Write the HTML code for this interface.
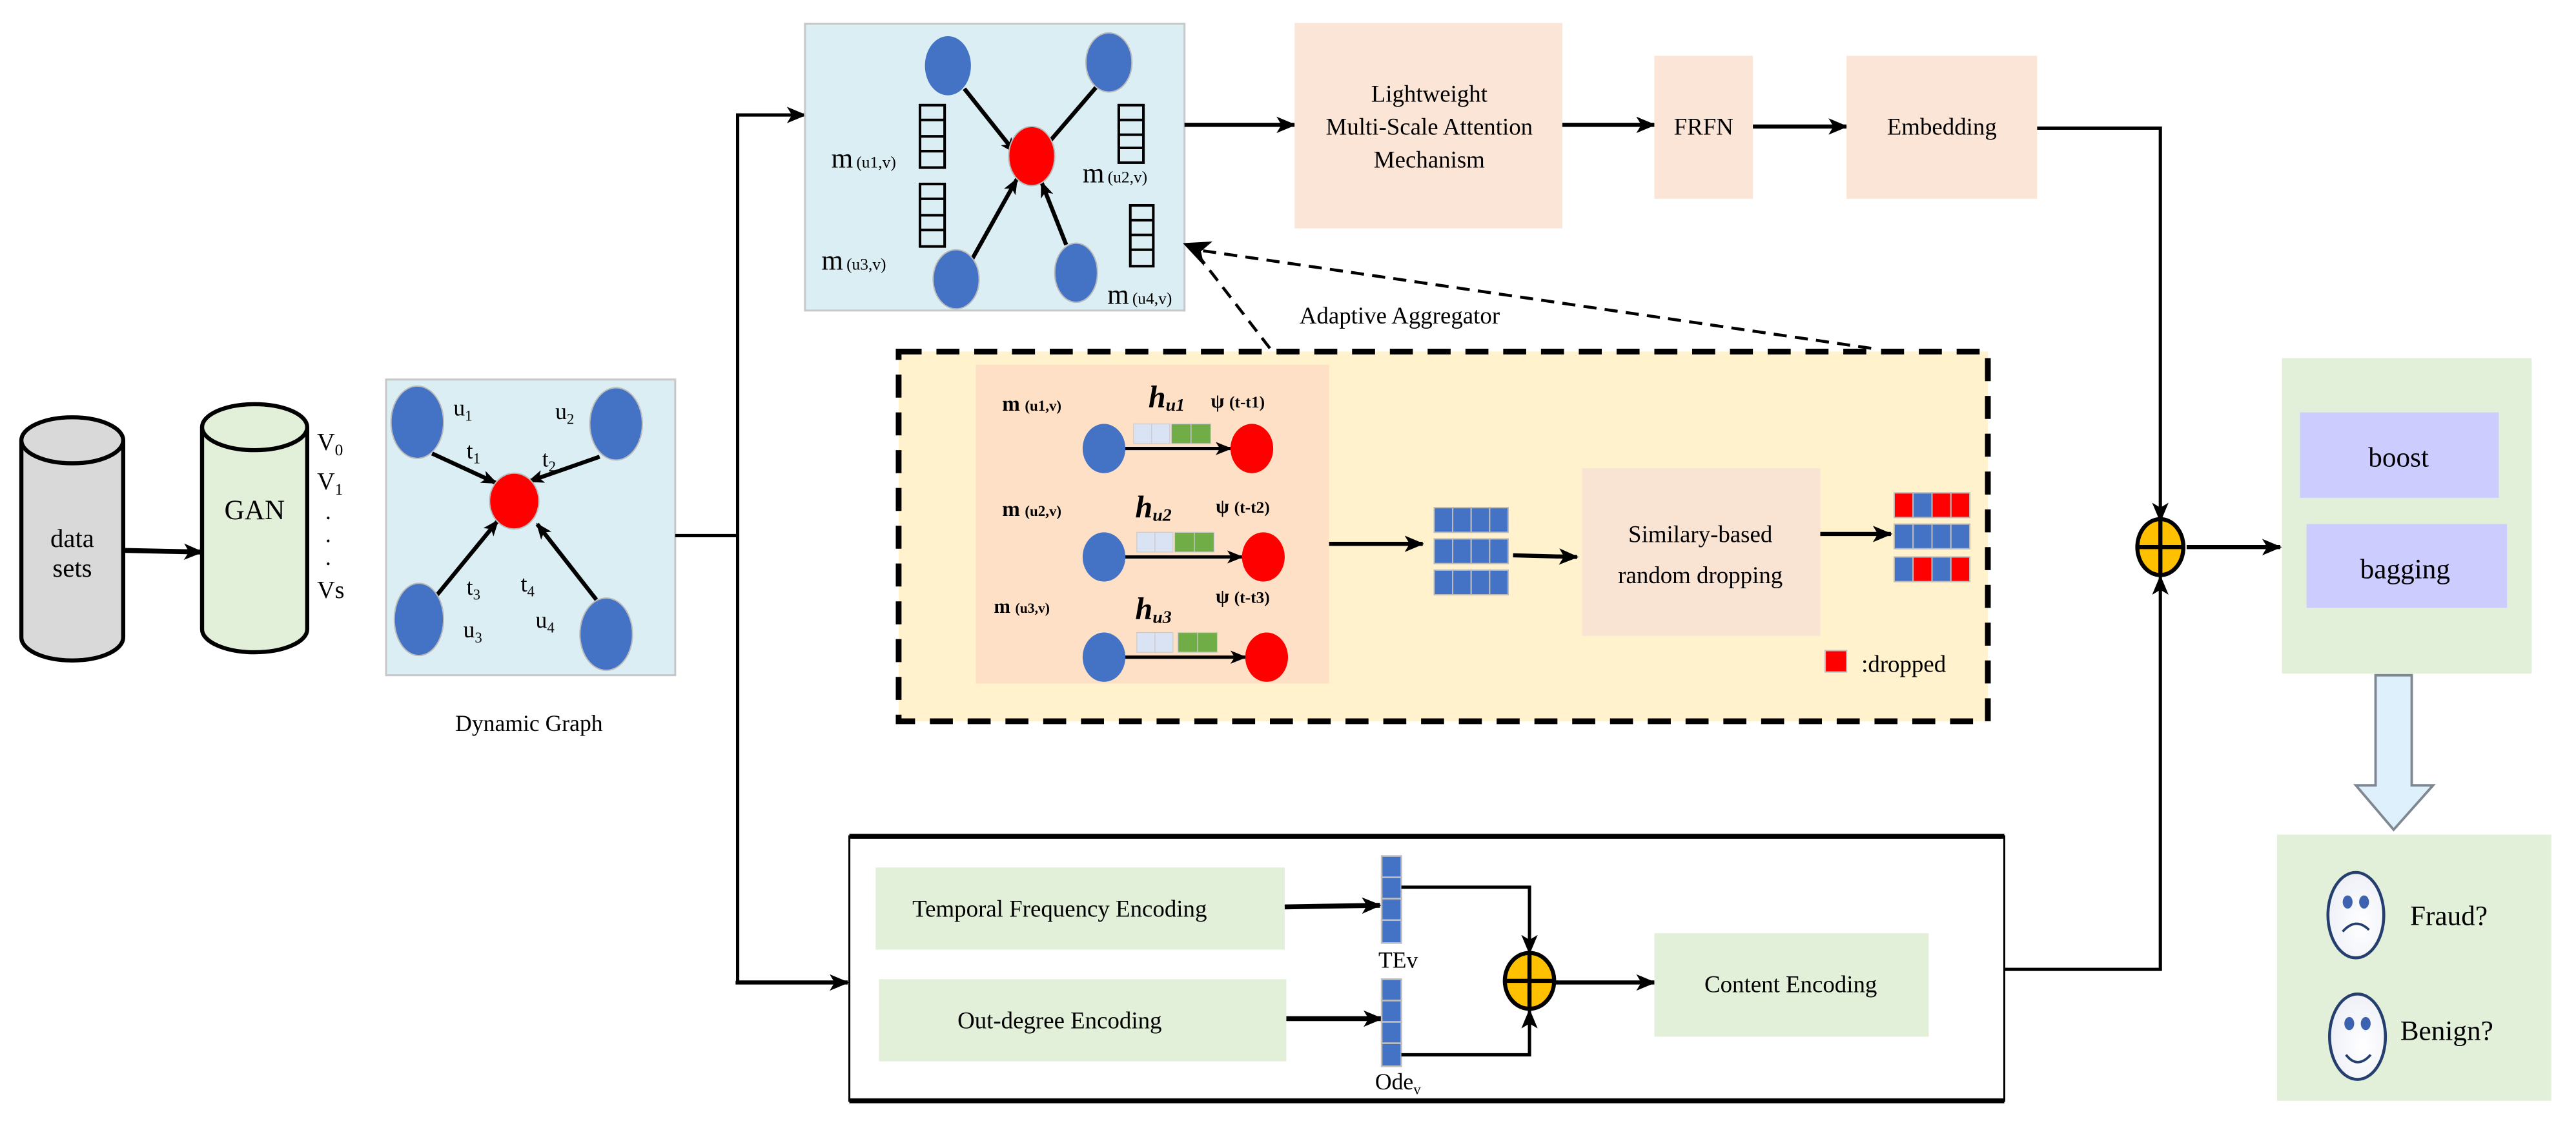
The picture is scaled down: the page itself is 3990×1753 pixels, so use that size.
<!DOCTYPE html>
<html><head><meta charset="utf-8"><style>
html,body{margin:0;padding:0;background:#fff;}
svg{display:block;font-family:"Liberation Serif","DejaVu Serif",serif;}
svg text{font-family:"Liberation Serif","DejaVu Serif",serif !important;fill:#000;}
</style></head><body>
<svg width="3990" height="1753" viewBox="0 0 1568 689" preserveAspectRatio="none" xmlns="http://www.w3.org/2000/svg" font-family="Liberation Serif, serif">
<defs>
<marker id="a" markerWidth="12" markerHeight="10" refX="11" refY="5" orient="auto" markerUnits="userSpaceOnUse">
<path d="M0,0 L12,5 L0,10 L3,5 Z" fill="#000"/></marker>
<marker id="as" markerWidth="10" markerHeight="8" refX="9" refY="4" orient="auto" markerUnits="userSpaceOnUse">
<path d="M0,0 L10,4 L0,8 L2.5,4 Z" fill="#000"/></marker>
<radialGradient id="fg" cx="0.6" cy="0.6" r="0.7"><stop offset="0" stop-color="#fff"/><stop offset="1" stop-color="#eceef6"/></radialGradient>
</defs>

<!-- data sets cylinder -->
<path d="M13,268 L13,388 A31,14 0 0 0 75,388 L75,268" fill="#d9d9d9" stroke="#000" stroke-width="2.5"/>
<ellipse cx="44" cy="268" rx="31" ry="14" fill="#d9d9d9" stroke="#000" stroke-width="2.5"/>
<text x="44" y="333" font-size="16" text-anchor="middle">data</text>
<text x="44" y="351" font-size="16" text-anchor="middle">sets</text>
<line x1="75" y1="335" x2="123" y2="336" stroke="#000" stroke-width="3" marker-end="url(#a)"/>
<!-- GAN cylinder -->
<path d="M123,260 L123,383 A32,14 0 0 0 187,383 L187,260" fill="#e2efd9" stroke="#000" stroke-width="2.5"/>
<ellipse cx="155" cy="260" rx="32" ry="14" fill="#e2efd9" stroke="#000" stroke-width="2.5"/>
<text x="155" y="316" font-size="17" text-anchor="middle">GAN</text>
<text x="193" y="274" font-size="15">V<tspan font-size="10" dy="3">0</tspan></text>
<text x="193" y="298" font-size="15">V<tspan font-size="10" dy="3">1</tspan></text>
<text x="198" y="316" font-size="14">.</text>
<text x="198" y="330" font-size="14">.</text>
<text x="198" y="344" font-size="14">.</text>
<text x="193" y="364" font-size="15">Vs</text>

<!-- Dynamic graph -->
<rect x="235" y="231" width="176" height="180" fill="#dbeef3" stroke="#c8c8c8" stroke-width="1.2"/>
<line x1="263" y1="276" x2="302" y2="294" stroke="#000" stroke-width="2.5" marker-end="url(#as)"/>
<line x1="365" y1="278" x2="322" y2="293" stroke="#000" stroke-width="2.5" marker-end="url(#as)"/>
<line x1="262" y1="367" x2="303" y2="317" stroke="#000" stroke-width="2.5" marker-end="url(#as)"/>
<line x1="363" y1="365" x2="327" y2="319" stroke="#000" stroke-width="2.5" marker-end="url(#as)"/>
<ellipse cx="254" cy="257" rx="16" ry="22" fill="#4472c4" stroke="#bbb" stroke-width="0.8"/>
<ellipse cx="375" cy="258" rx="16" ry="22" fill="#4472c4" stroke="#bbb" stroke-width="0.8"/>
<ellipse cx="313" cy="305" rx="15" ry="17" fill="#f00" stroke="#bbb" stroke-width="0.8"/>
<ellipse cx="255" cy="377" rx="15" ry="22" fill="#4472c4" stroke="#bbb" stroke-width="0.8"/>
<ellipse cx="369" cy="386" rx="16" ry="22" fill="#4472c4" stroke="#bbb" stroke-width="0.8"/>
<text x="276" y="253" font-size="14">u<tspan font-size="9" dy="3">1</tspan></text>
<text x="338" y="255" font-size="14">u<tspan font-size="9" dy="3">2</tspan></text>
<text x="284" y="279" font-size="14">t<tspan font-size="9" dy="3">1</tspan></text>
<text x="330" y="284" font-size="14">t<tspan font-size="9" dy="3">2</tspan></text>
<text x="284" y="362" font-size="14">t<tspan font-size="9" dy="3">3</tspan></text>
<text x="317" y="360" font-size="14">t<tspan font-size="9" dy="3">4</tspan></text>
<text x="282" y="388" font-size="14">u<tspan font-size="9" dy="3">3</tspan></text>
<text x="326" y="382" font-size="14">u<tspan font-size="9" dy="3">4</tspan></text>
<text x="322" y="445" font-size="14" text-anchor="middle">Dynamic Graph</text>

<!-- branching lines -->
<polyline points="411,326 449,326" fill="none" stroke="#000" stroke-width="2"/>
<polyline points="449,598 449,70 490,70" fill="none" stroke="#000" stroke-width="2" marker-end="url(#a)"/>
<polyline points="449,597 449,598 516,598" fill="none" stroke="#000" stroke-width="2.5" marker-end="url(#a)"/>

<!-- Top graph box -->
<rect x="490" y="14.5" width="231" height="174.5" fill="#dbeef3" stroke="#c8c8c8" stroke-width="1.2"/>
<line x1="587" y1="54" x2="618" y2="93" stroke="#000" stroke-width="2.5" marker-end="url(#as)"/>
<line x1="669" y1="51" x2="633" y2="93" stroke="#000" stroke-width="2.5" marker-end="url(#as)"/>
<line x1="591" y1="159" x2="619" y2="109" stroke="#000" stroke-width="2.5" marker-end="url(#as)"/>
<line x1="649" y1="149" x2="634" y2="111" stroke="#000" stroke-width="2.5" marker-end="url(#as)"/>
<ellipse cx="577" cy="40" rx="14" ry="18" fill="#4472c4"/>
<ellipse cx="675" cy="38" rx="14" ry="18" fill="#4472c4" stroke="#bbb" stroke-width="0.8"/>
<ellipse cx="628" cy="95" rx="14" ry="18" fill="#f00" stroke="#bbb" stroke-width="0.8"/>
<ellipse cx="582" cy="170" rx="14" ry="18" fill="#4472c4" stroke="#bbb" stroke-width="0.8"/>
<ellipse cx="655" cy="166" rx="13" ry="18" fill="#4472c4" stroke="#bbb" stroke-width="0.8"/>
<g fill="none" stroke="#000" stroke-width="1.6">
<rect x="560" y="64" width="15" height="38"/><line x1="560" y1="73" x2="575" y2="73"/><line x1="560" y1="83" x2="575" y2="83"/><line x1="560" y1="92" x2="575" y2="92"/>
<rect x="560" y="112" width="15" height="38"/><line x1="560" y1="121" x2="575" y2="121"/><line x1="560" y1="131" x2="575" y2="131"/><line x1="560" y1="140" x2="575" y2="140"/>
<rect x="681" y="64" width="15" height="35"/><line x1="681" y1="73" x2="696" y2="73"/><line x1="681" y1="82" x2="696" y2="82"/><line x1="681" y1="90" x2="696" y2="90"/>
<rect x="688" y="125" width="14" height="37"/><line x1="688" y1="134" x2="702" y2="134"/><line x1="688" y1="143" x2="702" y2="143"/><line x1="688" y1="152" x2="702" y2="152"/>
</g>
<text x="506" y="102" font-size="17">m<tspan font-size="10" dx="2">(u1,v)</tspan></text>
<text x="659" y="111" font-size="17">m<tspan font-size="10" dx="2">(u2,v)</tspan></text>
<text x="500" y="164" font-size="17">m<tspan font-size="10" dx="2">(u3,v)</tspan></text>
<text x="674" y="185" font-size="17">m<tspan font-size="10" dx="2">(u4,v)</tspan></text>

<!-- top row -->
<line x1="721" y1="76" x2="788" y2="76" stroke="#000" stroke-width="2.5" marker-end="url(#a)"/>
<rect x="788" y="14" width="163" height="125" fill="#fbe5d6"/>
<text x="870" y="62" font-size="14.5" text-anchor="middle">Lightweight</text>
<text x="870" y="82" font-size="14.5" text-anchor="middle">Multi-Scale Attention</text>
<text x="870" y="102" font-size="14.5" text-anchor="middle">Mechanism</text>
<line x1="951" y1="76" x2="1007" y2="76" stroke="#000" stroke-width="2.5" marker-end="url(#a)"/>
<rect x="1007" y="34" width="60" height="87" fill="#fbe5d6"/>
<text x="1037" y="82" font-size="14.5" text-anchor="middle">FRFN</text>
<line x1="1067" y1="77" x2="1124" y2="77" stroke="#000" stroke-width="2.5" marker-end="url(#a)"/>
<rect x="1124" y="34" width="116" height="87" fill="#fbe5d6"/>
<text x="1182" y="82" font-size="14.5" text-anchor="middle">Embedding</text>
<polyline points="1240,78 1315,78 1315,317" fill="none" stroke="#000" stroke-width="2" marker-end="url(#a)"/>

<!-- Adaptive aggregator -->
<text x="791" y="197" font-size="14.5">Adaptive  Aggregator</text>
<rect x="547" y="214" width="663" height="225" fill="#fff2cc"/>
<rect x="547" y="214" width="663" height="225" fill="none" stroke="#000" stroke-width="3.5" stroke-dasharray="14,9"/>
<line x1="1139" y1="212" x2="728" y2="152" stroke="#000" stroke-width="1.8" stroke-dasharray="8,5"/>
<line x1="773" y1="212" x2="729" y2="155" stroke="#000" stroke-width="1.8" stroke-dasharray="8,5"/>
<path d="M720,148 L738,147 L731,153 L733,162 Z" fill="#000"/>

<rect x="594" y="222" width="215" height="194" fill="#fde0c5"/>
<g font-weight="bold">
<text x="610" y="250" font-size="13">m<tspan font-size="9" dx="3">(u1,v)</tspan></text>
<text x="699" y="248" font-size="19" font-style="italic">h<tspan font-size="11" dy="2">u1</tspan></text>
<text x="737" y="248" font-size="12">ψ <tspan font-size="10">(t-t1)</tspan></text>
<text x="610" y="314" font-size="13">m<tspan font-size="9" dx="3">(u2,v)</tspan></text>
<text x="691" y="315" font-size="19" font-style="italic">h<tspan font-size="11" dy="2">u2</tspan></text>
<text x="740" y="312" font-size="12">ψ <tspan font-size="10">(t-t2)</tspan></text>
<text x="605" y="373" font-size="12">m<tspan font-size="8.5" dx="3">(u3,v)</tspan></text>
<text x="691" y="377" font-size="19" font-style="italic">h<tspan font-size="11" dy="2">u3</tspan></text>
<text x="740" y="367" font-size="12">ψ <tspan font-size="10">(t-t3)</tspan></text>
</g>
<g>
<rect x="690" y="258" width="11" height="12" fill="#dae3f3" stroke="#ccc" stroke-width="0.5"/><rect x="701" y="258" width="11" height="12" fill="#dae3f3" stroke="#ccc" stroke-width="0.5"/>
<rect x="713" y="258" width="12" height="12" fill="#70ad47" stroke="#ccc" stroke-width="0.5"/><rect x="725" y="258" width="12" height="12" fill="#70ad47" stroke="#ccc" stroke-width="0.5"/>
<line x1="684" y1="273" x2="749" y2="273" stroke="#000" stroke-width="2" marker-end="url(#as)"/>
<ellipse cx="672" cy="273" rx="13" ry="15" fill="#4472c4"/>
<ellipse cx="762" cy="273" rx="13" ry="15" fill="#f00"/>

<rect x="692" y="324" width="11" height="12" fill="#dae3f3" stroke="#ccc" stroke-width="0.5"/><rect x="703" y="324" width="11" height="12" fill="#dae3f3" stroke="#ccc" stroke-width="0.5"/>
<rect x="715" y="324" width="12" height="12" fill="#70ad47" stroke="#ccc" stroke-width="0.5"/><rect x="727" y="324" width="12" height="12" fill="#70ad47" stroke="#ccc" stroke-width="0.5"/>
<line x1="684" y1="339" x2="756" y2="339" stroke="#000" stroke-width="2" marker-end="url(#as)"/>
<ellipse cx="672" cy="339" rx="13" ry="15" fill="#4472c4"/>
<ellipse cx="769" cy="339" rx="13" ry="15" fill="#f00"/>

<rect x="692" y="385" width="11" height="12" fill="#dae3f3" stroke="#ccc" stroke-width="0.5"/><rect x="703" y="385" width="11" height="12" fill="#dae3f3" stroke="#ccc" stroke-width="0.5"/>
<rect x="717" y="385" width="12" height="12" fill="#70ad47" stroke="#ccc" stroke-width="0.5"/><rect x="729" y="385" width="12" height="12" fill="#70ad47" stroke="#ccc" stroke-width="0.5"/>
<line x1="684" y1="400" x2="758" y2="400" stroke="#000" stroke-width="2" marker-end="url(#as)"/>
<ellipse cx="672" cy="400" rx="13" ry="15" fill="#4472c4"/>
<ellipse cx="771" cy="400" rx="13" ry="15" fill="#f00"/>
</g>
<line x1="809" y1="331" x2="866" y2="331" stroke="#000" stroke-width="2.5" marker-end="url(#a)"/>
<g stroke="#bbb" stroke-width="0.8" fill="#4472c4">
<rect x="873" y="309" width="11.25" height="15"/><rect x="884.25" y="309" width="11.25" height="15"/><rect x="895.5" y="309" width="11.25" height="15"/><rect x="906.75" y="309" width="11.25" height="15"/>
<rect x="873" y="328" width="11.25" height="15"/><rect x="884.25" y="328" width="11.25" height="15"/><rect x="895.5" y="328" width="11.25" height="15"/><rect x="906.75" y="328" width="11.25" height="15"/>
<rect x="873" y="347" width="11.25" height="15"/><rect x="884.25" y="347" width="11.25" height="15"/><rect x="895.5" y="347" width="11.25" height="15"/><rect x="906.75" y="347" width="11.25" height="15"/>
</g>
<line x1="921" y1="338" x2="960" y2="339" stroke="#000" stroke-width="2.5" marker-end="url(#a)"/>
<rect x="963" y="285" width="145" height="102" fill="#f9e3d3"/>
<text x="1035" y="330" font-size="14.5" text-anchor="middle">Similary-based</text>
<text x="1035" y="355" font-size="14.5" text-anchor="middle">random dropping</text>
<line x1="1108" y1="325" x2="1151" y2="325" stroke="#000" stroke-width="2.5" marker-end="url(#a)"/>
<g stroke="#bbb" stroke-width="0.8">
<rect x="1153" y="300" width="11.5" height="15" fill="#f00"/><rect x="1164.5" y="300" width="11.5" height="15" fill="#4472c4"/><rect x="1176" y="300" width="11.5" height="15" fill="#f00"/><rect x="1187.5" y="300" width="11.5" height="15" fill="#f00"/>
<rect x="1153" y="319" width="11.5" height="15" fill="#4472c4"/><rect x="1164.5" y="319" width="11.5" height="15" fill="#4472c4"/><rect x="1176" y="319" width="11.5" height="15" fill="#4472c4"/><rect x="1187.5" y="319" width="11.5" height="15" fill="#4472c4"/>
<rect x="1153" y="339" width="11.5" height="15" fill="#4472c4"/><rect x="1164.5" y="339" width="11.5" height="15" fill="#f00"/><rect x="1176" y="339" width="11.5" height="15" fill="#4472c4"/><rect x="1187.5" y="339" width="11.5" height="15" fill="#f00"/>
<rect x="1111" y="396" width="13" height="13" fill="#f00"/>
</g>
<text x="1133" y="409" font-size="14.5">:dropped</text>

<!-- sum circle right -->
<line x1="1331" y1="333" x2="1388" y2="333" stroke="#000" stroke-width="2.5" marker-end="url(#a)"/>
<polyline points="1220,590 1315,590 1315,351" fill="none" stroke="#000" stroke-width="2" marker-end="url(#a)"/>
<ellipse cx="1315" cy="333" rx="14" ry="17" fill="#ffc000" stroke="#000" stroke-width="2.5"/>
<line x1="1301" y1="333" x2="1329" y2="333" stroke="#000" stroke-width="2.5"/>
<line x1="1315" y1="316" x2="1315" y2="350" stroke="#000" stroke-width="2.5"/>

<!-- classifier box -->
<rect x="1389" y="218" width="152" height="192" fill="#e2efd9"/>
<rect x="1400" y="251" width="121" height="52" fill="#ccccff"/>
<text x="1460" y="284" font-size="17" text-anchor="middle">boost</text>
<rect x="1404" y="319" width="122" height="51" fill="#ccccff"/>
<text x="1464" y="352" font-size="17" text-anchor="middle">bagging</text>
<path d="M1446,411 L1468,411 L1468,478 L1481,478 L1457,505 L1434,478 L1446,478 Z" fill="#ddf0fb" stroke="#7f8790" stroke-width="1.5"/>

<!-- result box -->
<rect x="1386" y="508" width="167" height="162" fill="#e2efd9"/>
<ellipse cx="1434" cy="557" rx="17" ry="26" fill="url(#fg)" stroke="#243f6e" stroke-width="1.8"/>
<ellipse cx="1429" cy="549" rx="3" ry="4" fill="#3d63b0"/><ellipse cx="1439" cy="549" rx="3" ry="4" fill="#3d63b0"/>
<path d="M1426,567 Q1434,558 1442,566" fill="none" stroke="#243f6e" stroke-width="1.5"/>
<text x="1467" y="563" font-size="17">Fraud?</text>
<ellipse cx="1435" cy="631" rx="17" ry="26" fill="url(#fg)" stroke="#243f6e" stroke-width="1.8"/>
<ellipse cx="1430" cy="623" rx="3" ry="4" fill="#3d63b0"/><ellipse cx="1440" cy="623" rx="3" ry="4" fill="#3d63b0"/>
<path d="M1428,642 Q1435,651 1443,642" fill="none" stroke="#243f6e" stroke-width="1.5"/>
<text x="1461" y="633" font-size="17">Benign?</text>

<!-- bottom content box -->
<rect x="517" y="509" width="703" height="161" fill="#fff" stroke="#000" stroke-width="1.2"/>
<line x1="517" y1="509" x2="1220" y2="509" stroke="#000" stroke-width="3"/>
<line x1="517" y1="670" x2="1220" y2="670" stroke="#000" stroke-width="3"/>
<rect x="533" y="528" width="249" height="50" fill="#e2efd9"/>
<text x="645" y="558" font-size="14.5" text-anchor="middle">Temporal Frequency Encoding</text>
<rect x="535" y="596" width="248" height="50" fill="#e2efd9"/>
<text x="645" y="626" font-size="14.5" text-anchor="middle">Out-degree Encoding</text>
<line x1="782" y1="552" x2="840" y2="551" stroke="#000" stroke-width="3" marker-end="url(#a)"/>
<line x1="783" y1="620" x2="841" y2="620" stroke="#000" stroke-width="3" marker-end="url(#a)"/>
<g fill="#4472c4" stroke="#c0c0c0" stroke-width="1">
<rect x="841" y="521" width="12" height="13"/><rect x="841" y="534" width="12" height="13"/><rect x="841" y="547" width="12" height="13"/><rect x="841" y="560" width="12" height="14"/>
<rect x="841" y="596" width="12" height="13"/><rect x="841" y="609" width="12" height="13"/><rect x="841" y="622" width="12" height="13"/><rect x="841" y="635" width="12" height="14"/>
</g>
<text x="839" y="589" font-size="14">TEv</text>
<text x="837" y="663" font-size="14">Ode<tspan font-size="9" dy="3">v</tspan></text>
<polyline points="853,540 931,540 931,580" fill="none" stroke="#000" stroke-width="2" marker-end="url(#a)"/>
<polyline points="853,642 931,642 931,615" fill="none" stroke="#000" stroke-width="2" marker-end="url(#a)"/>
<ellipse cx="931" cy="597" rx="15" ry="17" fill="#ffc000" stroke="#000" stroke-width="2.5"/>
<line x1="916" y1="597" x2="946" y2="597" stroke="#000" stroke-width="2.5"/>
<line x1="931" y1="580" x2="931" y2="614" stroke="#000" stroke-width="2.5"/>
<line x1="946" y1="598" x2="1007" y2="598" stroke="#000" stroke-width="2.5" marker-end="url(#a)"/>
<rect x="1007" y="568" width="167" height="63" fill="#e2efd9"/>
<text x="1090" y="604" font-size="14.5" text-anchor="middle">Content Encoding</text>
</svg>
</body></html>
